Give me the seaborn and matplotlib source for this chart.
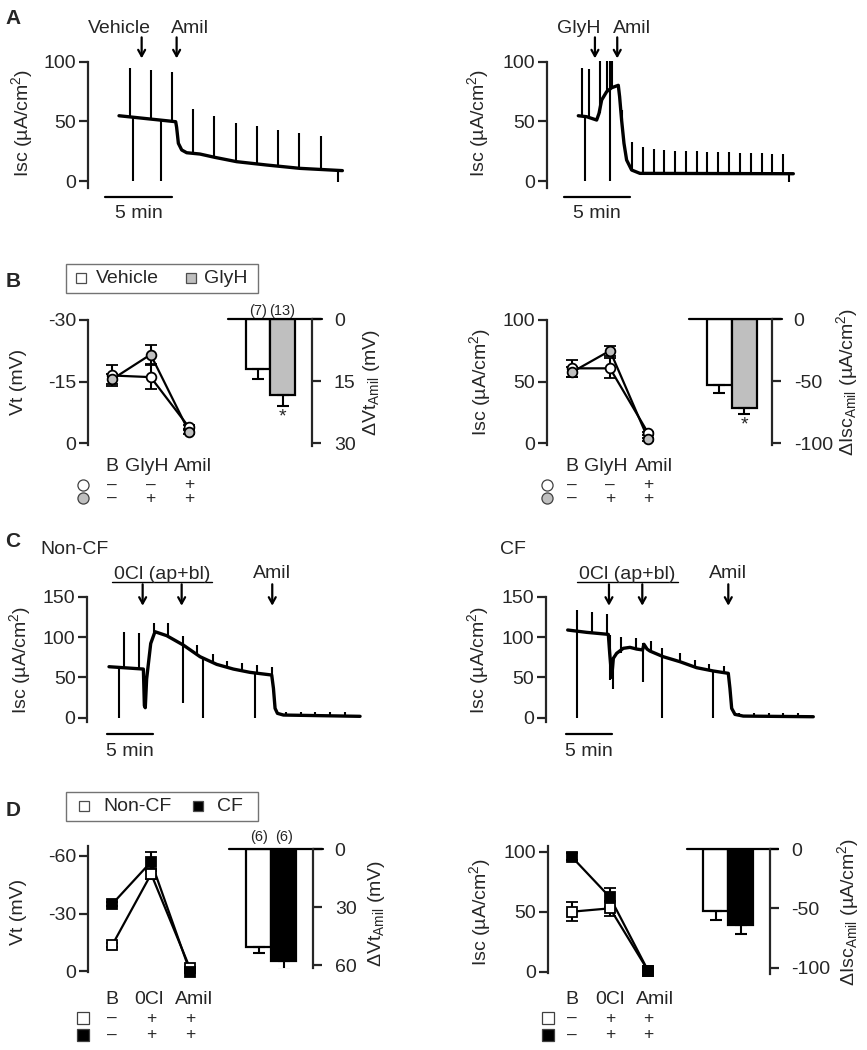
import matplotlib
matplotlib.use('Agg')
import matplotlib.pyplot as plt
import matplotlib.transforms as mtransforms
from matplotlib.lines import Line2D
from matplotlib.patches import Rectangle
import seaborn as sns

# ---------------- data ----------------
# Panel A, vehicle trace (time in min, Isc in uA/cm2)
a_veh_t = [0, 4.23, 4.30, 4.43, 4.68, 5.05, 6.04, 7.16, 8.78, 11.02, 13.5, 16.67]
a_veh_isc = [54.7, 49.7, 45, 31.6, 26, 23.7, 22.6, 19.8, 16.2, 13.4, 10.6, 8.7]
a_veh_spk_t = [0.82, 1.07, 2.39, 3.11, 3.98, 5.55, 7.11, 8.73, 10.3, 11.89, 13.46, 15.07, 16.37]
a_veh_spk_lo = [54, 0, 52, 0, 50, 22.6, 19.5, 16.4, 14.5, 12.8, 11, 9.2, -0.5]
a_veh_spk_hi = [95, 54, 93, 51, 91, 60.3, 54.7, 48.9, 46.1, 42.7, 40.5, 38, 9]
a_veh_events = [1.69, 4.30]
a_veh_event_lbl = ['Vehicle', 'Amil']

# Panel A, GlyH trace
a_gly_t = [0, 0.63, 1.39, 1.57, 1.77, 2.15, 2.53, 3.03, 3.13, 3.28, 3.46, 3.66, 4.04, 4.67, 16.29]
a_gly_isc = [54.7, 53.9, 51.1, 56.7, 67.9, 74.9, 78.2, 80.2, 70.7, 51.1, 31.6, 17.6, 9.2, 6.4, 6.1]
a_gly_spk_t = [0.25, 0.51, 0.83, 1.64, 2.15, 2.40, 2.55, 3.28, 4.09, 4.87, 5.71, 6.52, 7.32, 8.13,
               8.96, 9.77, 10.61, 11.41, 12.25, 13.06, 13.89, 14.70, 15.48, 15.98]
a_gly_spk_lo = [54.5, 0, 53, 57, 75, 0, 78, 51, 9, 6.5, 6.2, 6.1, 6.1, 6.1,
                6.1, 6.1, 6.1, 6.1, 6.1, 6.1, 6.1, 6.1, 6.1, -0.5]
a_gly_spk_hi = [95, 54, 93.6, 100.6, 100.6, 100.6, 100.6, 59.5, 33, 28.8, 26.8, 26, 25.5, 25.2,
                24.8, 24.5, 24.2, 24, 23.7, 23.5, 23.2, 23, 22.6, 6.1]
a_gly_events = [1.26, 2.95]
a_gly_event_lbl = ['GlyH', 'Amil']

# Panel B, Vt (mV) and Isc at B / GlyH / Amil
b_cats = ['B', 'GlyH', 'Amil']
b_veh_row = ['\u2013', '\u2013', '+']
b_gly_row = ['\u2013', '+', '+']
b_veh_vt = [-16.5, -16.1, -3.9]
b_veh_vt_sem = [2.6, 3.0, 0.5]
b_gly_vt = [-15.6, -21.6, -2.8]
b_gly_vt_sem = [1.2, 2.2, 0.5]
b_veh_isc = [60.8, 60.8, 8.1]
b_veh_isc_sem = [6.8, 8.0, 1.0]
b_gly_isc = [57.6, 75.1, 3.2]
b_gly_isc_sem = [4.0, 4.0, 1.0]
b_groups = ['Vehicle', 'GlyH']
b_dvt = [12.0, 18.4]
b_dvt_sem = [2.4, 2.6]
b_disc = [-52.7, -71.9]
b_disc_sem = [6.7, 4.3]
b_n = ['(7)', '(13)']

# Panel C, non-CF trace
c_ncf_t = [0, 3.79, 3.9, 4.0, 4.15, 4.6, 5.07, 6.36, 8.2, 10.04, 11.88, 13.71, 15.55, 17.94,
           18.13, 18.31, 18.57, 19.23, 27.68]
c_ncf_isc = [63.2, 60.3, 15, 12.4, 48, 92, 106.6, 101.7, 90, 75.6, 66.1, 60.3, 56.2, 52.9,
             36.4, 11.6, 5.4, 3.3, 1.7]
c_ncf_spk_t = [1.14, 1.65, 3.31, 4.96, 6.47, 8.2, 9.74, 10.33, 11.43, 13.05, 14.63, 16.1, 16.29,
               17.94, 19.52, 21.14, 22.76, 24.38, 26.03]
c_ncf_spk_lo = [0, 62, 61, 106, 101, 17.8, 77, 0, 69, 62, 58, 0, 55.5, 53, 3.3, 2.5, 2.2, 2, 1.8]
c_ncf_spk_hi = [62, 105.8, 104.5, 118, 117.8, 101.7, 90, 73, 78.5, 70.7, 67.4, 56, 65.3, 63.2,
                7.4, 7, 7, 7, 7]
c_ncf_events = [3.71, 8.01, 18.0]

# Panel C, CF trace
c_cf_t = [0, 2.08, 4.45, 4.6, 4.82, 5.0, 5.36, 6.09, 6.82, 7.55, 8.2, 8.35, 8.7, 9.01, 10.47,
          12.3, 14.12, 15.95, 17.59, 17.77, 17.96, 18.32, 19.23, 26.9]
c_cf_isc = [108.7, 105.8, 103.3, 80, 50, 73.6, 79.8, 86, 87.2, 85.1, 84, 91, 85, 82.6, 75.6,
            69.4, 62, 57.9, 55, 36.4, 11.6, 4.1, 2, 1.2]
c_cf_spk_t = [0.99, 2.63, 4.27, 4.64, 5.0, 5.84, 7.45, 8.28, 9.09, 10.36, 12.3, 13.94, 15.51,
              15.95, 17.12, 18.8, 20.4, 22.04, 23.61, 25.26]
c_cf_spk_lo = [0, 106, 103, 46.7, 35, 80, 86, 44.6, 82, 0, 69, 62, 59, 0, 55, 2.5, 2, 1.8, 1.6, 1.5]
c_cf_spk_hi = [133.5, 131, 128.9, 103, 75, 100.4, 99.2, 92, 95.5, 87, 79.8, 71.5, 66.5, 58, 64.5,
               5.4, 5.4, 5.4, 5.4, 5.4]
c_cf_events = [4.52, 8.17, 17.59]

# Panel D
d_cats = ['B', '0Cl', 'Amil']
d_ncf_row = ['\u2013', '+', '+']
d_cf_row = ['\u2013', '+', '+']
d_ncf_vt = [-13.6, -50.6, -1.4]
d_ncf_vt_sem = [1.0, 2.5, 0.5]
d_cf_vt = [-35.0, -57.0, 0.3]
d_cf_vt_sem = [1.0, 5.0, 0.5]
d_ncf_isc = [50.0, 52.8, 0.5]
d_ncf_isc_sem = [8.0, 6.0, 0.5]
d_cf_isc = [95.8, 62.0, 0.5]
d_cf_isc_sem = [3.0, 8.0, 0.5]
d_groups = ['Non-CF', 'CF']
d_dvt = [50.5, 57.9]
d_dvt_sem = [3.5, 4.7]
d_disc = [-52.0, -64.0]
d_disc_sem = [7.8, 7.6]
d_n = ['(6)', '(6)']

# ---------------- style ----------------
sns.set_style('ticks')
plt.rcParams['font.family'] = ['Liberation Sans', 'DejaVu Sans']
plt.rcParams['mathtext.fontset'] = 'custom'
plt.rcParams['mathtext.rm'] = 'Liberation Sans'
plt.rcParams['mathtext.it'] = 'Liberation Sans:italic'
plt.rcParams['mathtext.default'] = 'regular'
plt.rcParams['axes.unicode_minus'] = False

W, H = 867, 1050
FS = 14
GREY = '#bfbfbf'
fig = plt.figure(figsize=(W / 100, H / 100), dpi=100)
LIMS = {}


def px_ax(xmap, ymap, xlim, ylim):
    # place an axes so that data values land on given pixel positions
    xd0, xp0, xd1, xp1 = xmap
    sx = (xp1 - xp0) / (xd1 - xd0)
    pl = xp0 + (xlim[0] - xd0) * sx
    pr = xp0 + (xlim[1] - xd0) * sx
    yd0, yp0, yd1, yp1 = ymap
    sy = (yp1 - yp0) / (yd1 - yd0)
    pa = yp0 + (ylim[0] - yd0) * sy
    pb = yp0 + (ylim[1] - yd0) * sy
    top, bot = min(pa, pb), max(pa, pb)
    ax = fig.add_axes([pl / W, 1 - bot / H, (pr - pl) / W, (bot - top) / H])
    ylo = ylim[0] if pa > pb else ylim[1]
    yhi = ylim[1] if pa > pb else ylim[0]
    LIMS[ax] = (xlim, (ylo, yhi))
    ax.patch.set_alpha(0)
    return ax


def ftext(x, y, s, **kw):
    kw.setdefault('fontsize', FS)
    kw.setdefault('ha', 'center')
    kw.setdefault('va', 'center')
    fig.text(x / W, 1 - y / H, s, **kw)


def fline(x0, x1, y, lw=1.5):
    fig.add_artist(Line2D([x0 / W, x1 / W], [1 - y / H, 1 - y / H], color='k', lw=lw))


def legend_box(x0, x1, y0, y1, items):
    fig.add_artist(Rectangle((x0 / W, 1 - y1 / H), (x1 - x0) / W, (y1 - y0) / H,
                             transform=fig.transFigure, fill=False, ec='0.45', lw=1.0))
    yc = (y0 + y1) / 2
    for mx, fc, tx, lbl in items:
        fig.add_artist(Line2D([mx / W], [1 - yc / H], marker='s', ms=7, mfc=fc, mec='0.3',
                              mew=0.9, ls='', transform=fig.transFigure))
        ftext(tx, yc, lbl, ha='left')


def trace_panel(ax, t, isc, st, slo, shi, ticks):
    sns.lineplot(x=t, y=isc, ax=ax, color='k', lw=2.4, sort=False, estimator=None, clip_on=False)
    ax.vlines(st, slo, shi, color='k', lw=1.5, clip_on=False)
    for s in ['top', 'right', 'bottom']:
        ax.spines[s].set_visible(False)
    ax.spines['left'].set_linewidth(1.6)
    ax.set_xticks([])
    ax.set_yticks(ticks)
    ax.tick_params(axis='y', direction='out', length=6.5, width=1.6, labelsize=FS, pad=2)
    ax.set_xlabel('')
    ax.set_ylabel('')


def arrows(ax, times, tip, tail):
    for t in times:
        ax.annotate('', xy=(t, tip), xytext=(t, tail), annotation_clip=False,
                    arrowprops=dict(arrowstyle='->,head_length=0.45,head_width=0.25',
                                    lw=1.6, color='k', shrinkA=0, shrinkB=0))


def line_panel(ax, ctrl, ctrl_sem, trt, trt_sem, marker, trt_color, ticks):
    pos = [0, 1, 2]
    for vals, sem, fc in [(ctrl, ctrl_sem, 'white'), (trt, trt_sem, trt_color)]:
        sns.lineplot(x=pos, y=vals, ax=ax, color='k', lw=1.6, clip_on=False)
        eb = ax.errorbar(pos, vals, yerr=sem, fmt=marker, ms=7, mfc=fc, mec='k', mew=1.3,
                         ecolor='k', elinewidth=1.5, capsize=4, capthick=1.5, zorder=3)
        for art in eb.get_children():
            art.set_clip_on(False)
    for s in ['top', 'right', 'bottom']:
        ax.spines[s].set_visible(False)
    ax.spines['left'].set_linewidth(1.6)
    ax.set_xticks([])
    ax.set_yticks(ticks)
    ax.tick_params(axis='y', direction='out', length=6.5, width=1.6, labelsize=FS, pad=2)
    ax.set_ylabel('')


def row_labels(ax, cats, cat_px, rows, ys, icon_x, marker, fills):
    for c, x in zip(cats, cat_px):
        ftext(x, ys[0], c)
    tr = mtransforms.blended_transform_factory(ax.transData, fig.transFigure)
    for row, y, fc in zip(rows, ys[1:], fills):
        for i, s in enumerate(row):
            ax.text(i, 1 - y / H, s, transform=tr, ha='center', va='center', fontsize=12.5)
        ax.plot([icon_x / W], [1 - y / H], marker=marker, ms=8, mfc=fc, mec='0.25', mew=0.9,
                transform=fig.transFigure, clip_on=False)


def bar_panel(ax, groups, vals, sem, colors, ticks, xend, n_lbl=None, n_y=None, star_y=None):
    sns.barplot(x=groups, y=vals, hue=groups, palette=colors, width=1, edgecolor='k',
                linewidth=1.6, errorbar=None, legend=False, ax=ax)
    lower = [s if v < 0 else 0 for v, s in zip(vals, sem)]
    upper = [s if v > 0 else 0 for v, s in zip(vals, sem)]
    ax.errorbar([0, 1], vals, yerr=[lower, upper], fmt='none', ecolor='k', elinewidth=1.5,
                capsize=4.5, capthick=1.5, zorder=1)
    xlim = LIMS[ax][0]
    ax.axhline(0, xmin=0, xmax=(xend - xlim[0]) / (xlim[1] - xlim[0]), color='k', lw=1.6,
               clip_on=False)
    for s in ['top', 'left', 'bottom']:
        ax.spines[s].set_visible(False)
    ax.spines['right'].set_linewidth(1.6)
    ax.yaxis.tick_right()
    ax.set_xticks([])
    ax.set_yticks(ticks)
    ax.tick_params(axis='y', direction='out', length=6.5, width=1.6, labelsize=FS, pad=9)
    ax.set_xlabel('')
    ax.set_ylabel('')
    if n_lbl is not None:
        for i, s in enumerate(n_lbl):
            ax.text(i, n_y, s, ha='center', va='center', fontsize=10.5)
    if star_y is not None:
        ax.text(1, star_y, '*', ha='center', va='center', fontsize=FS)


ISC_LBL = 'Isc (\u00b5A/cm$^2$)'
DVT_LBL = '\u0394Vt$_{Amil}$ (mV)'
DISC_LBL = '\u0394Isc$_{Amil}$ (\u00b5A/cm$^2$)'

# ---------------- panel A ----------------
ax = px_ax((0, 119, 1, 132.4), (0, 181, 100, 61.7), (-2.336, 17.5), (-5.6, 100))
trace_panel(ax, a_veh_t, a_veh_isc, a_veh_spk_t, a_veh_spk_lo, a_veh_spk_hi, [0, 50, 100])
arrows(ax, a_veh_events, 102.8, 120.4)
ax.plot([-1.04, 3.96], [-13.2, -13.2], color='k', lw=1.6, clip_on=False)
ftext(119, 28.3, a_veh_event_lbl[0])
ftext(190, 28.3, a_veh_event_lbl[1])
ftext(138.7, 213.3, '5 min')
ftext(21.7, 123, ISC_LBL, rotation=90)

ax = px_ax((0, 578.3, 1, 591.5), (0, 181, 100, 61.7), (-2.39, 17), (-5.6, 100))
trace_panel(ax, a_gly_t, a_gly_isc, a_gly_spk_t, a_gly_spk_lo, a_gly_spk_hi, [0, 50, 100])
arrows(ax, a_gly_events, 102.8, 120.4)
ax.plot([-1.06, 3.94], [-13.2, -13.2], color='k', lw=1.6, clip_on=False)
ftext(579, 28.3, a_gly_event_lbl[0])
ftext(632.3, 28.3, a_gly_event_lbl[1])
ftext(597.3, 213.3, '5 min')
ftext(478.3, 123, ISC_LBL, rotation=90)

ftext(12.7, 18.3, 'A', fontsize=15, fontweight='bold')

# ---------------- panel B ----------------
ftext(12.7, 281.7, 'B', fontsize=15, fontweight='bold')
legend_box(65.7, 258.3, 264, 292.7,
           [(80.8, 'white', 96, b_groups[0]), (190.5, GREY, 204, b_groups[1])])

ax = px_ax((0, 112.3, 2, 189.0), (-30, 320.0, 0, 443.3), (-0.64, 2.5), (0.4, -30))
line_panel(ax, b_veh_vt, b_veh_vt_sem, b_gly_vt, b_gly_vt_sem, 'o', GREY, [-30, -15, 0])
row_labels(ax, b_cats, [112.3, 147.2, 193.2], [b_veh_row, b_gly_row], [466.7, 485, 498.3],
           83, 'o', ['white', GREY])
ftext(18.3, 381.7, 'Vt (mV)', rotation=90)

ax = px_ax((0, 257.9, 1, 282.5), (0, 319.3, 30, 443.3), (-1.2, 2.21), (0, 30.6))
bar_panel(ax, b_groups, b_dvt, b_dvt_sem, ['white', GREY], [0, 15, 30], 2.6,
          n_lbl=b_n, n_y=-1.9, star_y=23.6)
ftext(371.7, 382.3, DVT_LBL, rotation=90)

ax = px_ax((0, 571.7, 2, 648.3), (100, 320.0, 0, 443.3), (-0.65, 2.5), (-1, 100))
line_panel(ax, b_veh_isc, b_veh_isc_sem, b_gly_isc, b_gly_isc_sem, 'o', GREY, [0, 50, 100])
row_labels(ax, b_cats, [571.7, 605.3, 653.7], [b_veh_row, b_gly_row], [466.7, 485, 498.3],
           546.7, 'o', ['white', GREY])
ftext(480, 381.7, ISC_LBL, rotation=90)

ax = px_ax((0, 719.2, 1, 744.2), (0, 319.3, -100, 443.3), (-1.2, 2.12), (-101, 0))
bar_panel(ax, b_groups, b_disc, b_disc_sem, ['white', GREY], [0, -50, -100], 2.5,
          star_y=-85.2)
ftext(846.7, 381.7, DISC_LBL, rotation=90)

# ---------------- panel C ----------------
ftext(12.7, 541.7, 'C', fontsize=15, fontweight='bold')
ftext(40, 550, d_groups[0], ha='left')
ftext(500, 550, d_groups[1], ha='left')

ax = px_ax((0, 109, 1, 118.07), (0, 717.7, 150, 596.7), (-2.39, 28), (-5.8, 150))
trace_panel(ax, c_ncf_t, c_ncf_isc, c_ncf_spk_t, c_ncf_spk_lo, c_ncf_spk_hi, [0, 50, 100, 150])
arrows(ax, c_ncf_events, 138.8, 165.4)
ax.plot([-0.19, 4.81], [-20.6, -20.6], color='k', lw=1.6, clip_on=False)
ftext(161.7, 574.3, '0Cl (ap+bl)')
fline(111.7, 211.7, 581.7, lw=1.0)
ftext(271.7, 573.3, 'Amil')
ftext(130, 751, '5 min')
ftext(20, 660, ISC_LBL, rotation=90)

ax = px_ax((0, 567.7, 1, 576.83), (0, 717.7, 150, 596.7), (-2.38, 27.5), (-5.8, 150))
trace_panel(ax, c_cf_t, c_cf_isc, c_cf_spk_t, c_cf_spk_lo, c_cf_spk_hi, [0, 50, 100, 150])
arrows(ax, c_cf_events, 138.8, 165.4)
ax.plot([-0.19, 4.82], [-20.6, -20.6], color='k', lw=1.6, clip_on=False)
ftext(627.3, 574.3, '0Cl (ap+bl)')
fline(576.7, 678.3, 581.7, lw=1.0)
ftext(728.3, 573.3, 'Amil')
ftext(589, 751, '5 min')
ftext(478.3, 660, ISC_LBL, rotation=90)

# ---------------- panel D ----------------
ftext(12.7, 810, 'D', fontsize=15, fontweight='bold')
legend_box(65.7, 257.7, 791.7, 821,
           [(83.8, 'white', 103.3, d_groups[0]), (198.3, 'k', 216.7, d_groups[1])])

ax = px_ax((0, 112.3, 2, 190.0), (-60, 856, 0, 971), (-0.62, 2.5), (0.5, -65))
line_panel(ax, d_ncf_vt, d_ncf_vt_sem, d_cf_vt, d_cf_vt_sem, 's', 'k', [-60, -30, 0])
row_labels(ax, d_cats, [112.3, 149, 194], [d_ncf_row, d_cf_row], [1000, 1018, 1035],
           83.3, 's', ['white', 'k'])
ftext(18.3, 911.7, 'Vt (mV)', rotation=90)

ax = px_ax((0, 258.7, 1, 283.7), (0, 849, 60, 965), (-1.18, 2.18), (0, 61.7))
bar_panel(ax, d_groups, d_dvt, d_dvt_sem, ['white', 'k'], [0, 30, 60], 2.56,
          n_lbl=d_n, n_y=-6.4)
ftext(376.7, 913.3, DVT_LBL, rotation=90)

ax = px_ax((0, 571.7, 2, 648.3), (100, 851.7, 0, 971.7), (-0.63, 2.5), (-1, 104.7))
line_panel(ax, d_ncf_isc, d_ncf_isc_sem, d_cf_isc, d_cf_isc_sem, 's', 'k', [0, 50, 100])
row_labels(ax, d_cats, [571.7, 609.7, 655], [d_ncf_row, d_cf_row], [1000, 1018, 1035],
           548.3, 's', ['white', 'k'])
ftext(480, 911.7, ISC_LBL, rotation=90)

ax = px_ax((0, 715.5, 1, 740.5), (0, 849, -100, 967.7), (-1.15, 2.18), (-105, 0))
bar_panel(ax, d_groups, d_disc, d_disc_sem, ['white', 'k'], [0, -50, -100], 2.51)
ftext(848.3, 911.7, DISC_LBL, rotation=90)

# apply the pixel-matched limits last (seaborn may have changed them)
for a, (xl, yl) in LIMS.items():
    a.set_xlim(xl)
    a.set_ylim(yl)

fig.savefig('out.png', dpi=100, facecolor='white')
